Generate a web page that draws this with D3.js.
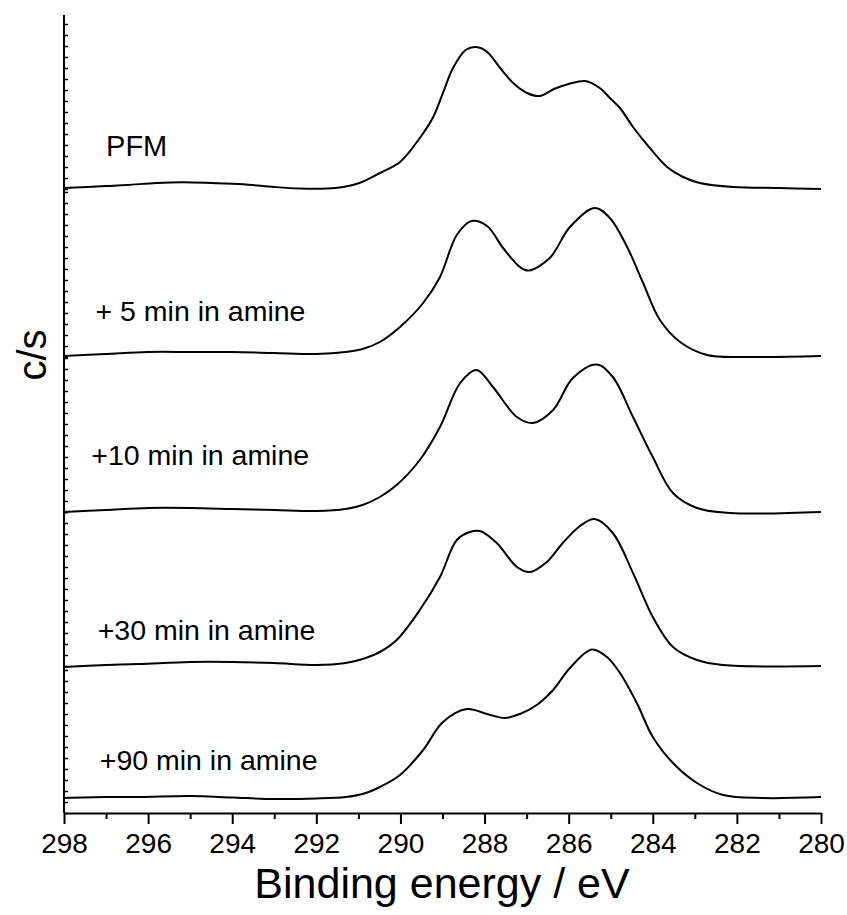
<!DOCTYPE html>
<html>
<head>
<meta charset="utf-8">
<script src="https://cdn.jsdelivr.net/npm/d3@7/dist/d3.min.js"></script>
<style>
  html, body { margin: 0; padding: 0; background: #fff; }
  svg { display: block; }
  text { font-family: "Liberation Sans", Arial, sans-serif; fill: #000; }
</style>
</head>
<body>
<script>
// ---- data (binding energy in eV, intensity in c/s above each trace's own baseline) ----
const seriesNames = ["PFM", "+ 5 min in amine", "+10 min in amine", "+30 min in amine", "+90 min in amine"];

const pfm = [
  [298.0,10],[297.0,30],[296.5,40],[295.8,60],[295.17,67],[294.5,60],[293.74,47],[293.0,20],
  [292.4,5],[291.75,5],[291.3,25],[290.96,63],[290.49,160],[290.01,270],[289.54,510],
  [289.22,720],[288.99,960],[288.75,1210],[288.45,1390],[288.2,1420],[287.95,1375],[287.63,1210],
  [287.32,1060],[286.99,960],[286.68,930],[286.35,1000],[286.0,1050],[285.61,1080],[285.26,1010],
  [285.02,910],[284.78,810],[284.47,620],[284.07,410],[283.66,220],[283.28,120],[282.88,60],[282.09,20],
  [281.0,10],[280.0,0]
];
const amine5 = [
  [298.0,10],[297.0,30],[296.0,50],[295.0,50],[294.0,50],[293.0,40],[292.0,30],[291.3,50],
  [290.9,80],[290.49,150],[290.01,300],[289.46,540],[289.06,800],[288.66,1220],[288.31,1360],
  [287.94,1310],[287.56,1090],[287.16,900],[286.95,865],[286.45,990],[285.97,1300],[285.38,1490],
  [285.02,1390],[284.61,1100],[284.23,740],[283.83,370],[283.35,150],[282.71,20],[281.76,0],[280.0,10]
];
const amine10 = [
  [298.0,0],[297.0,20],[296.0,40],[295.0,40],[294.0,30],[293.0,20],[292.0,10],[291.3,30],
  [290.9,70],[290.49,150],[290.09,270],[289.54,520],[289.06,850],[288.58,1290],[288.19,1420],
  [287.80,1250],[287.23,950],[286.85,890],[286.37,1020],[285.90,1340],[285.33,1475],[284.95,1350],
  [284.47,950],[284.00,550],[283.52,190],[282.95,40],[282.17,-10],[280.0,0]
];
const amine30 = [
  [298.0,-10],[297.0,10],[296.2,20],[295.0,40],[294.0,40],[293.0,30],[292.0,10],[291.3,30],
  [290.9,70],[290.49,140],[290.09,260],[289.54,560],[289.06,890],[288.66,1260],[288.35,1340],
  [288.11,1350],[287.71,1230],[287.23,990],[286.92,940],[286.52,1040],[286.14,1230],[285.73,1400],
  [285.38,1470],[284.95,1330],[284.47,930],[284.00,490],[283.52,190],[282.95,60],[282.33,10],[280.0,0]
];
const amine90 = [
  [298.0,150],[297.0,160],[296.2,160],[295.0,170],[294.0,155],[293.0,140],[292.0,145],[291.3,160],
  [290.9,190],[290.49,260],[290.01,380],[289.46,630],[288.99,910],[288.42,1040],[287.94,990],
  [287.52,950],[287.16,990],[286.76,1080],[286.37,1230],[285.97,1450],[285.45,1635],[285.09,1560],
  [284.78,1400],[284.38,1100],[284.00,760],[283.52,500],[282.95,300],[282.33,180],[281.38,150],[280.0,160]
];
const seriesData = [pfm, amine5, amine10, amine30, amine90];

// vertical offset (c/s) of each stacked panel's zero, and the total stacked range
const panelOffsets = [6240, 4560, 3010, 1470, 0];
const panelTop = 7980;

const xDomain = [298, 280];
const xMajorTicks = [298, 296, 294, 292, 290, 288, 286, 284, 282, 280];
const xMinorTicks = [297, 295, 293, 291, 289, 287, 285, 283, 281];
const xTitle = "Binding energy / eV";
const yTitle = "c/s";
// label anchor (energy, c/s above panel zero)
const labelEnergy = [297.0, 297.25, 297.35, 297.2, 297.15];
const labelLevel = [330, 360, 470, 260, 430];

// ---- drawing ----
const W = 847, H = 915;
const svg = d3.select("body").append("svg").attr("width", W).attr("height", H);

const x = d3.scaleLinear().domain(xDomain).range([64, 821]);
const y = d3.scaleLinear().domain([0, panelTop]).range([813, 15]);

// curves
const line = d3.line().curve(d3.curveCatmullRom.alpha(0.5));
seriesData.forEach((s, i) => {
  const off = panelOffsets[i];
  svg.append("path")
    .attr("d", line(s.map(d => [x(d[0]), y(d[1] + off)])))
    .attr("fill", "none")
    .attr("stroke", "#000")
    .attr("stroke-width", 2)
    .attr("stroke-linejoin", "round");
});

// stacked y axes (one per panel), minor ticks inside, no labels
const tickStep = 110;
panelOffsets.forEach((off, i) => {
  const top = i === 0 ? panelTop : panelOffsets[i - 1];
  const vals = d3.range(off, top + 1, tickStep);
  const g = svg.append("g").attr("transform", `translate(${x(298)},0)`);
  g.call(d3.axisLeft(y).tickValues(vals).tickFormat("").tickSizeInner(-4).tickSizeOuter(0));
  g.select(".domain").attr("d", `M0,${y(off)}V${y(top)}`).attr("stroke-width", 2);
  g.selectAll(".tick line").attr("stroke-width", 1.5);
});

// x axis
const gx = svg.append("g").attr("transform", `translate(0,${y(0)})`);
gx.call(d3.axisBottom(x).tickValues(xMajorTicks).tickFormat(d3.format("d"))
  .tickSizeInner(11).tickSizeOuter(0).tickPadding(9));
gx.select(".domain").attr("stroke-width", 2);
gx.selectAll(".tick line").attr("stroke-width", 2);
gx.selectAll(".tick text").style("font-size", "28px").attr("font-family", null);
const gxm = svg.append("g").attr("transform", `translate(0,${y(0)})`);
gxm.call(d3.axisBottom(x).tickValues(xMinorTicks).tickFormat("").tickSizeInner(6).tickSizeOuter(0));
gxm.select(".domain").remove();
gxm.selectAll(".tick line").attr("stroke-width", 2);

// titles
svg.append("text").attr("x", 442).attr("y", 898).attr("text-anchor", "middle")
  .style("font-size", "43px").text(xTitle);
svg.append("text").attr("transform", "translate(46,355) rotate(-90)").attr("text-anchor", "middle")
  .style("font-size", "40px").text(yTitle);

// series labels
seriesNames.forEach((n, i) => {
  svg.append("text")
    .attr("x", x(labelEnergy[i]))
    .attr("y", y(labelLevel[i] + panelOffsets[i]))
    .style("font-size", i === 0 ? "29px" : "28.5px")
    .text(n);
});
</script>
</body>
</html>
